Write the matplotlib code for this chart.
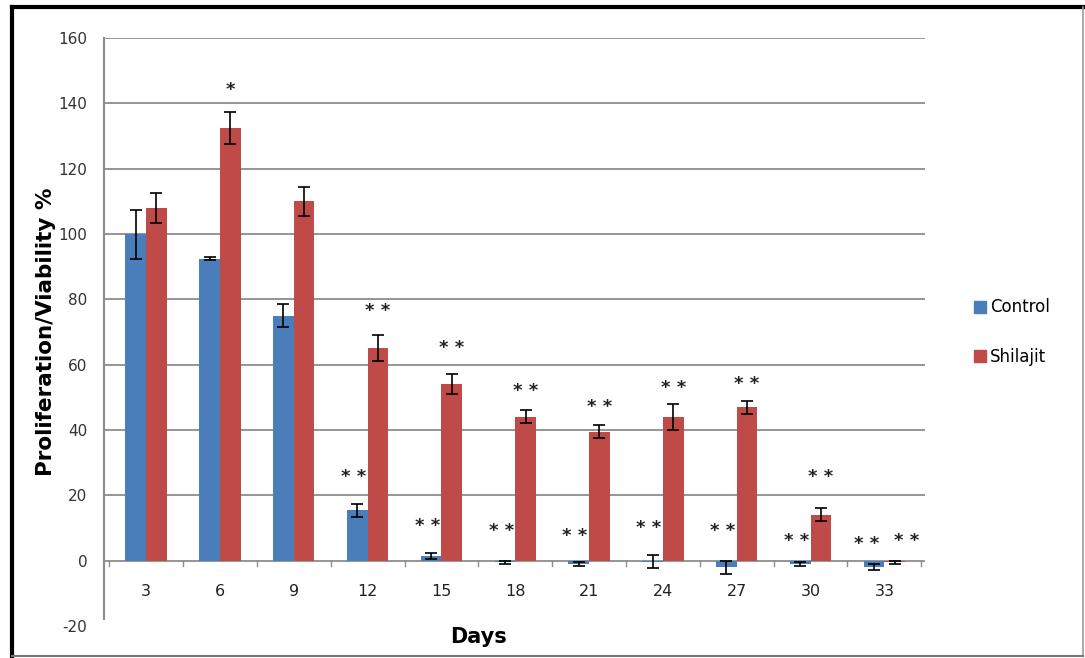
import matplotlib
matplotlib.use("Agg")
import matplotlib.pyplot as plt
from matplotlib.lines import Line2D
import numpy as np

days = ["3", "6", "9", "12", "15", "18", "21", "24", "27", "30", "33"]
control = [100, 92.5, 75, 15.5, 1.5, -0.5, -1, -0.3, -2, -1, -2]
control_err = [7.5, 0.5, 3.5, 2, 1, 0.5, 0.5, 2, 2, 0.5, 1]
shilajit = [108, 132.5, 110, 65, 54, 44, 39.5, 44, 47, 14, -0.5]
shilajit_err = [4.5, 5, 4.5, 4, 3, 2, 2, 4, 2, 2, 0.5]
sig_control = ["", "", "", "* *", "* *", "* *", "* *", "* *", "* *", "* *", "* *"]
sig_control_y = [0, 0, 0, 25.5, 10.5, 9, 7.5, 10, 9, 6, 5]
sig_shilajit = ["", "*", "", "* *", "* *", "* *", "* *", "* *", "* *", "* *", "* *"]
sig_shilajit_y = [0, 144, 0, 76.5, 65, 52, 47, 53, 54, 25.5, 6]
yticks = [-20, 0, 20, 40, 60, 80, 100, 120, 140, 160]

blue = "#4A7EBB"
red = "#BE4B48"
grid_c = "#8C8C8C"

fig = plt.figure(figsize=(10.85, 6.58), dpi=100)
ax = fig.add_axes([0.0959, 0.0486, 0.7566, 0.8936])

x = np.arange(len(days))
w = 0.28
ax.bar(x - w / 2, control, w, color=blue, yerr=control_err, capsize=4,
       error_kw=dict(ecolor="black", elinewidth=1.2, capthick=1.2), zorder=3, label="Control")
ax.bar(x + w / 2, shilajit, w, color=red, yerr=shilajit_err, capsize=4,
       error_kw=dict(ecolor="black", elinewidth=1.2, capthick=1.2), zorder=3, label="Shilajit")

last = len(days) - 1
for i in range(len(days)):
    dx_c = -0.1 if i == last else -0.05
    dx_s = 0.16 if i == last else 0.0
    if sig_control[i]:
        ax.text(x[i] - w / 2 + dx_c, sig_control_y[i], sig_control[i], ha="center", va="center",
                fontsize=13, fontweight="bold", color="#222222", zorder=4)
    if sig_shilajit[i]:
        ax.text(x[i] + w / 2 + dx_s, sig_shilajit_y[i], sig_shilajit[i], ha="center", va="center",
                fontsize=13, fontweight="bold", color="#222222", zorder=4)

ax.set_xlim(-0.57, len(days) - 0.45)
ax.set_ylim(-20, 160)
ax.set_yticks(yticks)
ax.set_yticklabels([str(v) for v in yticks], fontsize=11, color="#333333")
for v in yticks[2:]:
    ax.axhline(v, color=grid_c, lw=1.3, zorder=1)
ax.axhline(0, color=grid_c, lw=1.3, zorder=2)

ax.set_xticks([])
for i, d in enumerate(days):
    ax.text(x[i], -9.5, d, ha="center", va="center", fontsize=11.5, color="#222222")
for b in np.arange(-0.5, len(days) - 0.4, 1):
    ax.plot([b, b], [0, -1.5], color=grid_c, lw=1, zorder=2, clip_on=False)

for s in ["top", "right", "bottom"]:
    ax.spines[s].set_visible(False)
ax.spines["left"].set_color(grid_c)
ax.spines["left"].set_linewidth(1.5)
ax.spines["left"].set_bounds(-18, 160)
ax.tick_params(axis="y", length=0, pad=12)

ax.set_ylabel("Proliferation/Viability %", fontsize=15.5, fontweight="bold", labelpad=2)
ax.text(x[len(days) // 2] - 0.5, -23.3, "Days", ha="center", va="center",
        fontsize=15, fontweight="bold")

handles = [Line2D([], [], marker="s", ls="none", color=blue, markersize=8),
           Line2D([], [], marker="s", ls="none", color=red, markersize=8)]
fig.legend(handles, ["Control", "Shilajit"], loc="center left",
           bbox_to_anchor=(0.882, 0.495), frameon=False, fontsize=12,
           labelspacing=1.9, handletextpad=0.1, handlelength=1.0)

# outer frame
fig.add_artist(Line2D([0.011, 0.011], [0.003, 0.99], color="black", lw=3, transform=fig.transFigure))
fig.add_artist(Line2D([0.011, 0.998], [0.99, 0.99], color="black", lw=3, transform=fig.transFigure))
fig.add_artist(Line2D([0.998, 0.998], [0.003, 0.99], color="#999999", lw=1.2, transform=fig.transFigure))
fig.add_artist(Line2D([0.011, 0.998], [0.003, 0.003], color="#777777", lw=1.5, transform=fig.transFigure))

fig.savefig("out.png", dpi=100)
